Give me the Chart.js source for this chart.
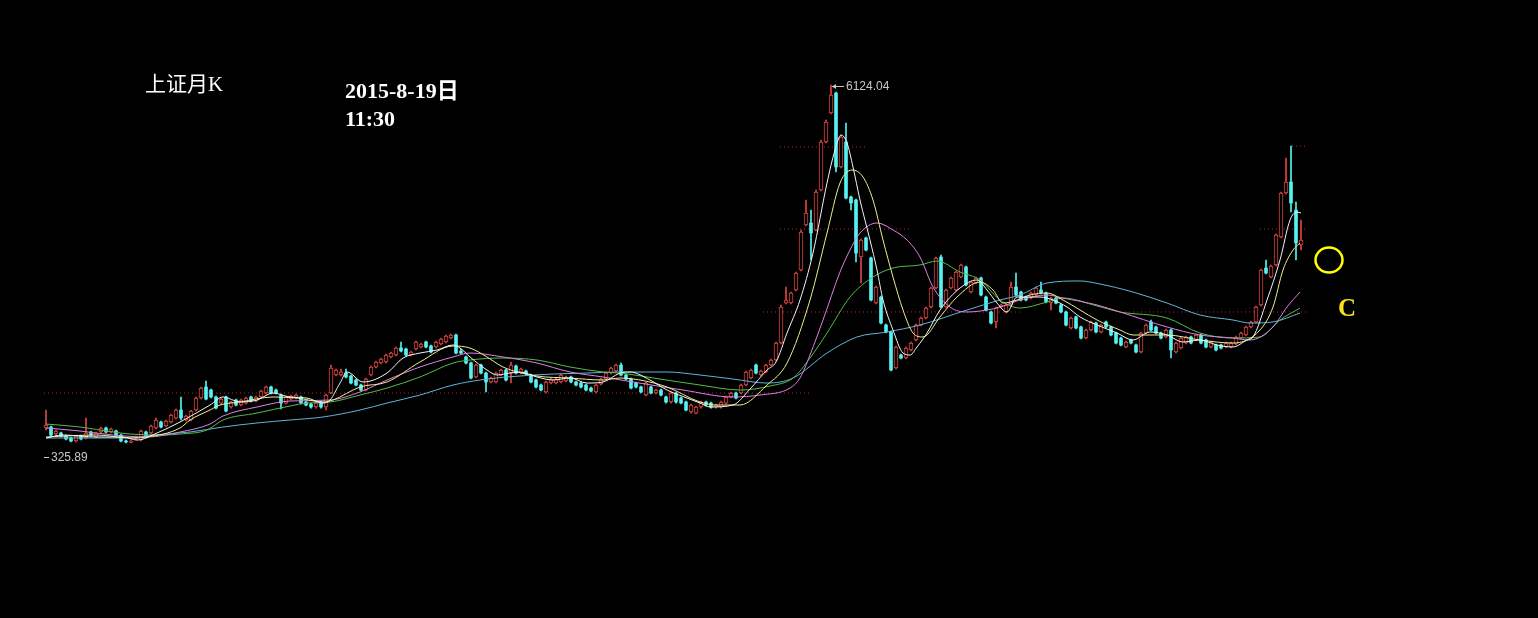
<!DOCTYPE html>
<html>
<head>
<meta charset="utf-8">
<title>上证月K</title>
<script src="https://cdn.jsdelivr.net/npm/chart.js@4.4.0/dist/chart.umd.min.js"></script>
<style>
  html, body { margin: 0; padding: 0; background: #000; overflow: hidden; }
  canvas { display: block; }
</style>
</head>
<body>
<canvas id="kline" width="1538" height="618"></canvas>
<script>
// monthly candles, index 0 = first month on screen, last one = 2015-8
const opens = [
  569, 585, 471, 488, 439, 407, 358, 439, 407, 504,
  423, 504, 569, 504, 520, 455, 358, 335, 390, 374,
  504, 488, 569, 666, 601, 666, 730, 860, 698, 698,
  860, 1054, 1233, 1184, 1071, 973, 1071, 909, 1022, 941,
  973, 1071, 1006, 1071, 1135, 1233, 1184, 1103, 973, 1038,
  1054, 1071, 990, 957, 909, 990, 909, 1135, 1427, 1427,
  1459, 1411, 1346, 1265, 1184, 1427, 1557, 1621, 1638, 1719,
  1751, 1864, 1848, 1751, 1848, 1881, 1962, 1897, 1881, 1929,
  1962, 2026, 2075, 1816, 1719, 1621, 1395, 1589, 1459, 1314,
  1314, 1427, 1508, 1459, 1573, 1459, 1492, 1427, 1346, 1265,
  1152, 1297, 1297, 1314, 1330, 1395, 1314, 1297, 1265, 1216,
  1152, 1281, 1362, 1459, 1492, 1589, 1427, 1362, 1297, 1233,
  1103, 1233, 1135, 1184, 1071, 990, 1135, 1054, 990, 828,
  811, 909, 990, 973, 909, 909, 973, 1071, 1135, 1135,
  1265, 1378, 1589, 1427, 1476, 1589, 1670, 1945, 2593, 2593,
  2804, 3128, 3857, 3889, 3776, 4423, 5201, 5671, 5994, 4796,
  5201, 4310, 4261, 3338, 3646, 3322, 2593, 2690, 2237, 2124,
  1540, 1751, 1702, 1832, 1994, 2237, 2350, 2528, 2836, 3338,
  2528, 2836, 2804, 3014, 3176, 2771, 2917, 2998, 2690, 2448,
  2286, 2528, 2448, 2561, 2852, 2771, 2690, 2674, 2723, 2804,
  2755, 2593, 2674, 2561, 2448, 2188, 2367, 2205, 2026, 2156,
  2269, 2124, 2286, 2205, 2107, 2026, 1881, 1994, 1913, 1800,
  2107, 2286, 2205, 2107, 2043, 2156, 1800, 1864, 1945, 2043,
  1994, 2075, 1994, 1881, 1913, 1913, 1881, 1881, 1929, 2026,
  2075, 2205, 2286, 2561, 3160, 3014, 3209, 3662, 4375, 4553,
  4099, 3533
];
const highs = [
  860, 601, 536, 504, 455, 423, 455, 455, 730, 520,
  504, 585, 585, 569, 536, 471, 374, 374, 439, 536,
  520, 617, 730, 682, 698, 795, 876, 1071, 779, 860,
  1071, 1233, 1330, 1200, 1087, 1054, 1087, 1006, 1038, 1038,
  1071, 1087, 1087, 1184, 1249, 1249, 1200, 1119, 1087, 1103,
  1119, 1087, 1006, 973, 990, 1006, 1119, 1589, 1524, 1524,
  1524, 1427, 1362, 1281, 1378, 1573, 1654, 1702, 1767, 1800,
  1881, 1962, 1864, 1816, 1978, 1945, 1978, 1913, 1978, 2026,
  2075, 2091, 2091, 1848, 1735, 1638, 1605, 1605, 1476, 1395,
  1476, 1524, 1524, 1638, 1589, 1540, 1508, 1443, 1362, 1281,
  1330, 1378, 1378, 1443, 1411, 1411, 1330, 1314, 1281, 1233,
  1281, 1378, 1476, 1557, 1605, 1621, 1443, 1378, 1314, 1249,
  1314, 1249, 1200, 1200, 1087, 1152, 1152, 1071, 1006, 957,
  925, 1006, 1006, 990, 957, 1006, 1087, 1152, 1152, 1281,
  1492, 1524, 1605, 1508, 1605, 1686, 1962, 2561, 2852, 2771,
  3095, 3776, 4261, 4099, 4423, 5233, 5557, 6124.04, 6010, 5314,
  5509, 4326, 4278, 3630, 3662, 3338, 2869, 2706, 2253, 2140,
  1897, 1767, 1881, 1962, 2253, 2367, 2528, 2852, 3338, 3371,
  2820, 3014, 3112, 3225, 3193, 2950, 3014, 3014, 2706, 2464,
  2528, 2577, 2577, 2933, 3079, 2788, 2706, 2771, 2852, 2933,
  2771, 2690, 2690, 2577, 2464, 2367, 2383, 2221, 2172, 2302,
  2286, 2253, 2302, 2221, 2124, 2043, 1978, 2010, 1929, 2124,
  2253, 2318, 2221, 2124, 2172, 2172, 1962, 2043, 2059, 2059,
  2091, 2091, 2010, 1978, 1929, 1929, 1962, 1962, 2059, 2124,
  2221, 2302, 2545, 3144, 3290, 3209, 3711, 4391, 4942, 5135,
  4229, 3937
];
const lows = [
  536, 423, 439, 423, 374, 342, 342, 374, 390, 439,
  407, 488, 488, 488, 439, 342, 325.89, 330, 374, 358,
  407, 471, 552, 569, 585, 650, 714, 698, 682, 682,
  844, 1038, 1022, 1054, 876, 957, 828, 892, 925, 925,
  957, 990, 990, 1054, 1119, 1119, 1119, 876, 957, 1022,
  1038, 957, 925, 892, 892, 892, 860, 1119, 1411, 1411,
  1378, 1281, 1249, 1168, 1168, 1411, 1540, 1605, 1621, 1702,
  1735, 1800, 1735, 1735, 1832, 1864, 1864, 1783, 1864, 1913,
  1945, 2010, 1767, 1767, 1605, 1362, 1378, 1443, 1152, 1297,
  1297, 1411, 1330, 1297, 1443, 1443, 1427, 1297, 1216, 1168,
  1135, 1281, 1281, 1297, 1314, 1297, 1249, 1216, 1168, 1152,
  1135, 1265, 1346, 1443, 1476, 1411, 1346, 1200, 1216, 1135,
  1087, 1119, 1119, 1087, 973, 973, 973, 957, 844, 811,
  795, 892, 925, 892, 892, 892, 957, 1054, 1038, 1119,
  1249, 1362, 1443, 1411, 1459, 1573, 1654, 1929, 2577, 2577,
  2788, 3112, 3840, 3290, 3760, 4407, 5185, 5654, 4715, 4780,
  4278, 4099, 3257, 2917, 3436, 2626, 2577, 2253, 2107, 1492,
  1524, 1686, 1686, 1816, 1978, 2221, 2334, 2512, 2820, 2512,
  2512, 2820, 2788, 2998, 2869, 2755, 2901, 2706, 2464, 2253,
  2188, 2512, 2431, 2545, 2706, 2626, 2626, 2658, 2706, 2739,
  2593, 2480, 2577, 2431, 2221, 2172, 2172, 2010, 2010, 2140,
  2107, 2107, 2188, 2059, 1929, 1897, 1864, 1929, 1783, 1783,
  2091, 2140, 2091, 2010, 2026, 1702, 1783, 1848, 1929, 1929,
  1978, 1929, 1864, 1864, 1816, 1848, 1864, 1864, 1913, 2010,
  2059, 2188, 2269, 2545, 3063, 2998, 3193, 3646, 4359, 4067,
  3290, 3452
];
const closes = [
  617, 455, 520, 439, 390, 358, 439, 390, 488, 455,
  488, 569, 504, 552, 455, 358, 342, 358, 423, 520,
  423, 601, 698, 585, 682, 779, 860, 730, 763, 844,
  1054, 1216, 1038, 1071, 892, 1038, 844, 990, 941, 1022,
  1054, 1006, 1071, 1168, 1233, 1135, 1135, 973, 1071, 1087,
  1103, 973, 941, 909, 973, 909, 1103, 1540, 1508, 1476,
  1395, 1297, 1265, 1184, 1362, 1557, 1638, 1686, 1751, 1783,
  1864, 1816, 1751, 1800, 1962, 1929, 1881, 1800, 1962, 2010,
  2059, 2075, 1783, 1783, 1621, 1378, 1589, 1459, 1314, 1378,
  1459, 1508, 1346, 1589, 1459, 1524, 1443, 1314, 1233, 1184,
  1314, 1362, 1362, 1427, 1395, 1314, 1265, 1233, 1184, 1168,
  1265, 1362, 1459, 1540, 1589, 1427, 1362, 1216, 1233, 1152,
  1297, 1135, 1184, 1103, 990, 1135, 990, 973, 860, 941,
  909, 990, 941, 909, 941, 990, 1071, 1135, 1054, 1265,
  1476, 1508, 1459, 1492, 1589, 1670, 1945, 2528, 2642, 2755,
  3079, 3743, 4051, 3727, 4391, 5201, 5525, 5962, 4796, 5282,
  4294, 4213, 3403, 3614, 3452, 2642, 2852, 2269, 2124, 1508,
  1881, 1702, 1864, 1945, 2237, 2350, 2512, 2836, 3322, 2528,
  2804, 2998, 3095, 3209, 2885, 2933, 2998, 2723, 2480, 2269,
  2512, 2561, 2561, 2852, 2723, 2642, 2642, 2755, 2836, 2755,
  2609, 2674, 2593, 2448, 2237, 2350, 2188, 2026, 2156, 2286,
  2124, 2237, 2205, 2075, 1945, 1913, 1962, 1945, 1800, 2107,
  2237, 2156, 2107, 2026, 2156, 1832, 1945, 2026, 2043, 1945,
  2075, 1945, 1881, 1962, 1832, 1864, 1945, 1945, 2043, 2107,
  2205, 2286, 2528, 3128, 3079, 3193, 3695, 4375, 4553, 4213,
  3565, 3614
];

// average lines: [month index, value]
const ma5 = [
  [0, 407], [3.4, 455], [10.2, 423], [15.4, 423], [18.2, 374], [22.2, 488], [26.8, 666],
  [32.8, 941], [35.4, 1071], [38.8, 990], [42.2, 1022], [45.4, 1135], [48.8, 1071],
  [52.2, 1054], [55.4, 973], [56.8, 1022], [58.8, 1297], [60.2, 1476], [63.4, 1314],
  [68.2, 1459], [71.4, 1702], [74.8, 1783], [78.2, 1832], [81.4, 1913], [82.8, 1864],
  [84.8, 1719], [88.2, 1508], [90.2, 1427], [92.8, 1459], [94.8, 1476], [98.2, 1395],
  [101.4, 1346], [104.8, 1378], [108.2, 1297], [111.4, 1314], [114.8, 1459], [116.8, 1476],
  [120.8, 1346], [124.2, 1184], [128.2, 1054], [130.8, 973], [132.8, 909], [137.4, 941],
  [140.8, 1200], [144.2, 1508], [146, 1638], [148.2, 2107], [150.8, 2642], [153.4, 3403],
  [156.2, 4537], [157.8, 5071], [159, 5314], [160.2, 5185], [161.4, 4796], [162.8, 4261],
  [164.8, 3614], [166.2, 3128], [167.4, 2642], [169.4, 2156], [171.4, 1783], [172.8, 1751],
  [174.2, 1881], [176.2, 2107], [178.8, 2480], [182.8, 2836], [186.2, 2966], [188.2, 2804],
  [190.2, 2593], [192.2, 2448], [194.2, 2690], [196.8, 2690], [198.8, 2690], [201.4, 2642],
  [204.2, 2528], [206.8, 2367], [210.2, 2237], [214.2, 2107], [217.4, 1994], [220.8, 2124],
  [224.2, 2075], [227.4, 1962], [230.8, 1994], [234.2, 1913], [237.4, 1881], [240.2, 1994],
  [241.4, 2043], [244.2, 2642], [246.8, 3290], [248.8, 3937], [250.2, 4067], [251, 4051]
];
const ma10 = [
  [0, 423], [10.2, 455], [16.8, 407], [20.2, 423], [26.8, 569], [28.8, 698], [32.8, 860],
  [34.8, 941], [38.8, 990], [45.4, 1071], [50.2, 1054], [55.4, 990], [57.4, 1022],
  [62.8, 1233], [68.2, 1314], [74.8, 1638], [81.4, 1897], [84.8, 1864], [88.2, 1719],
  [91.4, 1557], [98.2, 1411], [104.8, 1378], [111.4, 1346], [114.8, 1378], [118.8, 1346],
  [124.2, 1233], [130.8, 990], [134.2, 941], [138.8, 941], [144.2, 1265], [148.2, 1620],
  [152.8, 2642], [156.2, 3727], [158.8, 4537], [161.2, 4747], [163.4, 4634], [165.4, 4261],
  [167.4, 3614], [169.4, 3014], [171.4, 2480], [173.4, 2107], [175.4, 2043], [178.8, 2367],
  [182.2, 2690], [186.8, 2933], [189.4, 2804], [191.4, 2593], [194.2, 2642], [196.8, 2723],
  [200.2, 2755], [203.4, 2642], [206.8, 2480], [210.2, 2318], [214.8, 2156], [217.4, 2075],
  [224.2, 2075], [230.8, 1994], [237.4, 1945], [242.8, 2156], [245.4, 2528], [247.4, 3128],
  [249.4, 3452], [250.8, 3565]
];
const ma20 = [
  [0, 569], [6.8, 520], [13.4, 455], [20.2, 423], [26.8, 504], [32.8, 633], [35.4, 763],
  [42.2, 909], [48.8, 1006], [56.8, 1022], [62.8, 1152], [68.2, 1346], [74.8, 1557],
  [81.4, 1719], [84.8, 1783], [91.4, 1719], [98.2, 1621], [104.8, 1476], [111.4, 1395],
  [117.4, 1314], [127.4, 1184], [137.4, 1071], [142.8, 1103], [148.8, 1216], [150.8, 1378],
  [152.8, 1751], [155.4, 2318], [158.8, 3095], [160.8, 3452], [162.8, 3727], [166.2, 3889],
  [169.4, 3776], [172.2, 3614], [174.8, 3338], [177.4, 2852], [180.8, 2528], [184.2, 2448],
  [188.2, 2480], [190.8, 2528], [194.8, 2642], [200.2, 2723], [203.4, 2674], [210.2, 2561],
  [214.8, 2448], [224.2, 2205], [230.8, 2075], [237.4, 2026], [240.8, 1994], [245.4, 2205],
  [248.2, 2528], [250.8, 2771]
];
const ma30 = [
  [0, 633], [6.8, 585], [13.4, 504], [16.8, 471], [23.4, 455], [26.8, 471], [32.2, 536],
  [35.4, 698], [42.2, 811], [48.8, 925], [52.2, 973], [56.8, 990], [62.8, 1103],
  [68.2, 1216], [74.8, 1395], [81.4, 1621], [84.8, 1670], [91.4, 1702], [98.2, 1670],
  [104.8, 1557], [111.4, 1476], [114.8, 1459], [122.8, 1362], [130.8, 1265], [138.8, 1184],
  [144.8, 1249], [149.4, 1378], [152.8, 1702], [156.2, 2107], [160.8, 2690], [165.4, 3014],
  [169.4, 3160], [174.8, 3209], [178.2, 3273], [182.8, 3095], [186.8, 2966], [190.8, 2642],
  [194.8, 2512], [200.2, 2609], [203.4, 2674], [210.2, 2545], [214.8, 2448], [224.2, 2350],
  [230.8, 2107], [237.4, 2026], [242.8, 2043], [246.8, 2318], [250.8, 2512]
];
const ma60 = [
  [0, 407], [16.8, 407], [21.4, 455], [28.8, 504], [35.4, 585], [42.2, 650], [48.8, 698],
  [55.4, 747], [62.8, 860], [68.2, 973], [74.8, 1103], [81.4, 1265], [88.2, 1362],
  [94.8, 1411], [101.4, 1443], [108.2, 1459], [114.8, 1476], [124.2, 1476], [130.8, 1427],
  [137.4, 1362], [144.2, 1297], [149.4, 1378], [156.2, 1783], [162.2, 2043], [168.2, 2124],
  [174.8, 2237], [184.2, 2480], [190.8, 2642], [194.8, 2723], [200.2, 2917], [206.8, 2950],
  [210.8, 2901], [217.4, 2771], [224.2, 2593], [230.8, 2399], [237.4, 2318], [240.8, 2269],
  [245.4, 2286], [250.8, 2431]
];

// red dotted levels: [value, from index, to index]
const levels = [
  [1135, -0.4, 152.8], [5120, 146.8, 164.2], [3792, 146.8, 173.2], [2448, 143.4, 194.8],
  [5135, 249.2, 252.4], [3792, 242.8, 252.4], [2448, 215.8, 252.2]
];

const upColor = '#de4540';
const downColor = '#56f2f2';

const idx = closes.map((c, i) => i);
const isUp = i => closes[i] >= opens[i];

const maLine = (pts, color) => ({
  type: 'line',
  order: 0,
  data: pts.map(p => ({ x: p[0], y: p[1] })),
  borderColor: color,
  borderWidth: 1,
  pointRadius: 0,
  cubicInterpolationMode: 'monotone'
});

const levelLines = levels.map(l => ({
  type: 'line',
  order: 5,
  data: [{ x: l[1], y: l[0] }, { x: l[2], y: l[0] }],
  borderColor: '#b02828',
  borderWidth: 1,
  borderDash: [1, 3],
  pointRadius: 0
}));

// texts and marks that sit on top of the chart
const overlay = {
  id: 'overlay',
  beforeDraw(chart) {
    const ctx = chart.ctx;
    ctx.save();
    ctx.fillStyle = '#000';
    ctx.fillRect(0, 0, chart.width, chart.height);
    ctx.restore();
  },
  afterDatasetsDraw(chart) {
    const { ctx, scales: { x, y } } = chart;
    ctx.save();

    // highest high
    let hi = 0, lo = 0;
    highs.forEach((h, i) => { if (h > highs[hi]) hi = i; });
    lows.forEach((l, i) => { if (l < lows[lo]) lo = i; });
    const hx = Math.round(x.getPixelForValue(hi)) + 1;
    const hy = Math.round(y.getPixelForValue(highs[hi])) + 1.5;
    ctx.strokeStyle = '#c8c8c8';
    ctx.fillStyle = '#c8c8c8';
    ctx.lineWidth = 1;
    ctx.beginPath();
    ctx.moveTo(hx, hy);
    ctx.lineTo(hx + 12, hy);
    ctx.stroke();
    ctx.beginPath();
    ctx.moveTo(hx, hy);
    ctx.lineTo(hx + 4, hy - 2.5);
    ctx.lineTo(hx + 4, hy + 2.5);
    ctx.closePath();
    ctx.fill();
    ctx.font = '12px "Liberation Sans", Arial, sans-serif';
    ctx.textBaseline = 'middle';
    ctx.textAlign = 'left';
    ctx.fillText(highs[hi].toFixed(2), hx + 14, hy);

    // lowest low, shown at the left edge
    const ly = Math.round(y.getPixelForValue(lows[lo])) + 14.5;
    ctx.beginPath();
    ctx.moveTo(44, ly);
    ctx.lineTo(49, ly);
    ctx.stroke();
    ctx.fillText(lows[lo].toFixed(2), 51, ly);

    // title and time
    ctx.fillStyle = '#ffffff';
    ctx.textBaseline = 'alphabetic';
    ctx.font = '21px "Liberation Serif", "Noto Sans CJK SC", serif';
    ctx.fillText('上证月K', 145, 91);
    ctx.font = 'bold 22px "Liberation Serif", "Noto Sans CJK SC", serif';
    ctx.fillText('2015-8-19日', 345, 98);
    ctx.fillText('11:30', 345, 126);

    // yellow marker
    ctx.strokeStyle = '#ffff00';
    ctx.lineWidth = 2.5;
    ctx.beginPath();
    ctx.ellipse(1329, 260, 13.5, 12.5, 0, 0, Math.PI * 2);
    ctx.stroke();
    ctx.fillStyle = '#f5e21e';
    ctx.font = 'bold 25px "Liberation Serif", serif';
    ctx.fillText('C', 1338, 316);

    ctx.restore();
  }
};

new Chart(document.getElementById('kline'), {
  type: 'bar',
  data: {
    datasets: [
      maLine(ma5, '#f4f4f4'),
      maLine(ma10, '#eeee90'),
      maLine(ma20, '#e27ee6'),
      maLine(ma30, '#52bd48'),
      maLine(ma60, '#62b2da'),
      {
        type: 'bar',
        order: 2,
        grouped: false,
        barThickness: 3,
        minBarLength: 1,
        data: idx.filter(i => !isUp(i)).map(i => ({ x: i, y: [opens[i], closes[i]] })),
        backgroundColor: downColor,
        borderWidth: 0
      },
      {
        type: 'bar',
        order: 2,
        grouped: false,
        barThickness: 4,
        minBarLength: 1,
        data: idx.filter(isUp).map(i => ({ x: i, y: [opens[i], closes[i]] })),
        backgroundColor: '#000',
        borderColor: upColor,
        borderWidth: 1,
        borderSkipped: false
      },
      {
        type: 'bar',
        order: 3,
        grouped: false,
        barThickness: 1,
        minBarLength: 1,
        data: idx.map(i => ({ x: i, y: [lows[i], highs[i]] })),
        backgroundColor: idx.map(i => isUp(i) ? upColor : downColor),
        borderWidth: 0
      },
      ...levelLines
    ]
  },
  options: {
    responsive: false,
    animation: false,
    events: [],
    layout: { padding: 0 },
    plugins: {
      legend: { display: false },
      tooltip: { enabled: false }
    },
    scales: {
      x: { type: 'linear', display: false, offset: false, min: -9.2, max: 298.4 },
      y: { type: 'linear', display: false, min: -2508.4, max: 7500.7 }
    }
  },
  plugins: [overlay]
});
</script>
</body>
</html>
